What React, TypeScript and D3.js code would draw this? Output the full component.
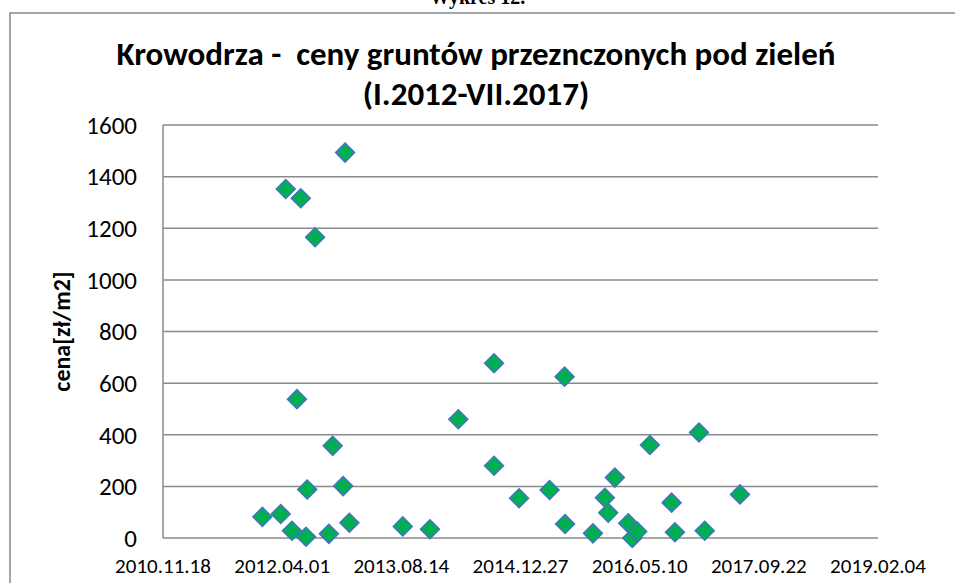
import React from "react";
import * as d3 from "d3";

// transaction dates and prices
const saleDates = [
  "2012-01-09", "2012-03-26", "2012-04-16", "2012-05-12", "2012-06-02", "2012-06-18",
  "2012-07-10", "2012-07-15", "2012-08-17", "2012-10-14", "2012-10-30", "2012-12-13",
  "2012-12-21", "2013-01-08", "2013-08-20", "2013-12-12", "2014-04-10", "2014-09-07",
  "2014-09-07", "2014-12-21", "2015-04-28", "2015-06-30", "2015-07-02", "2015-10-27",
  "2015-12-16", "2015-12-30", "2016-01-27", "2016-03-23", "2016-04-09", "2016-04-30",
  "2016-06-22", "2016-09-21", "2016-10-05", "2017-01-14", "2017-02-07", "2017-07-05",
];
const prices = [
  82, 93, 1352, 28, 538, 1316,
  5, 188, 1165, 16, 357, 201,
  1493, 59, 45, 34, 460, 677,
  280, 154, 186, 625, 54, 18,
  156, 98, 234, 57, 0, 25,
  360, 137, 22, 409, 28, 169,
];
const xTickDates = ["2010-11-18", "2012-04-01", "2013-08-14", "2014-12-27", "2016-05-10", "2017-09-22", "2019-02-04"];
const yTicks = [0, 200, 400, 600, 800, 1000, 1200, 1400, 1600];

const W = 955;
const H = 583;
const margin = { top: 125, right: 77, bottom: 45, left: 163 };
const font = "Carlito, Calibri, 'Open Sans', sans-serif";

export default function App() {
  const parse = d3.utcParse("%Y-%m-%d");
  const fmt = d3.utcFormat("%Y.%m.%d");
  const ticks = xTickDates.map((s) => parse(s) as Date);

  const x = d3.scaleUtc()
    .domain([ticks[0], ticks[ticks.length - 1]])
    .range([margin.left, W - margin.right]);
  const y = d3.scaleLinear()
    .domain([0, 1600])
    .range([H - margin.bottom, margin.top]);

  const points = saleDates.map((d, i) => ({ date: parse(d) as Date, price: prices[i] }));
  const diamond = d3.symbol(d3.symbolSquare, 180)() as string;
  const grid = "#8a8a8a";

  return (
    <svg width={W} height={H} style={{ position: "absolute", left: 0, top: 0, background: "#fff" }}>
      <text x={W / 2} y={4} textAnchor="middle" fontFamily="'Liberation Serif', serif" fontWeight="bold" fontSize={20}>
        Wykres 12.
      </text>
      <rect x={10} y={13} width={W + 20} height={H + 20} fill="none" stroke="#888" strokeWidth={1.5} />

      <text x={476} y={65} textAnchor="middle" fontFamily={font} fontWeight="bold" fontSize={33} style={{ whiteSpace: "pre" }}>
        {"Krowodrza -  ceny gruntów przeznczonych pod zieleń"}
      </text>
      <text x={476} y={105} textAnchor="middle" fontFamily={font} fontWeight="bold" fontSize={33}>
        (I.2012-VII.2017)
      </text>

      {yTicks.map((t) => (
        <g key={t}>
          <line x1={margin.left} x2={W - margin.right} y1={y(t)} y2={y(t)} stroke={grid} strokeWidth={1.5} />
          <text x={137} y={y(t)} dy="0.35em" textAnchor="end" fontFamily={font} fontSize={25}>
            {t}
          </text>
        </g>
      ))}
      <line x1={margin.left} x2={margin.left} y1={y(1600)} y2={y(0)} stroke={grid} strokeWidth={1.5} />

      {ticks.map((t, i) => (
        <text key={i} x={x(t)} y={H - 10} textAnchor="middle" fontFamily={font} fontSize={21}>
          {fmt(t)}
        </text>
      ))}

      <text
        transform={`translate(62,${(y(0) + y(1600)) / 2}) rotate(-90)`}
        textAnchor="middle"
        dy="0.35em"
        fontFamily={font}
        fontWeight="bold"
        fontSize={24}
      >
        cena[zł/m2]
      </text>

      {points.map((p, i) => (
        <path
          key={i}
          d={diamond}
          transform={`translate(${x(p.date)},${y(p.price)}) rotate(45)`}
          fill="#00b050"
          stroke="#4472c4"
          strokeWidth={1.5}
        />
      ))}
    </svg>
  );
}
